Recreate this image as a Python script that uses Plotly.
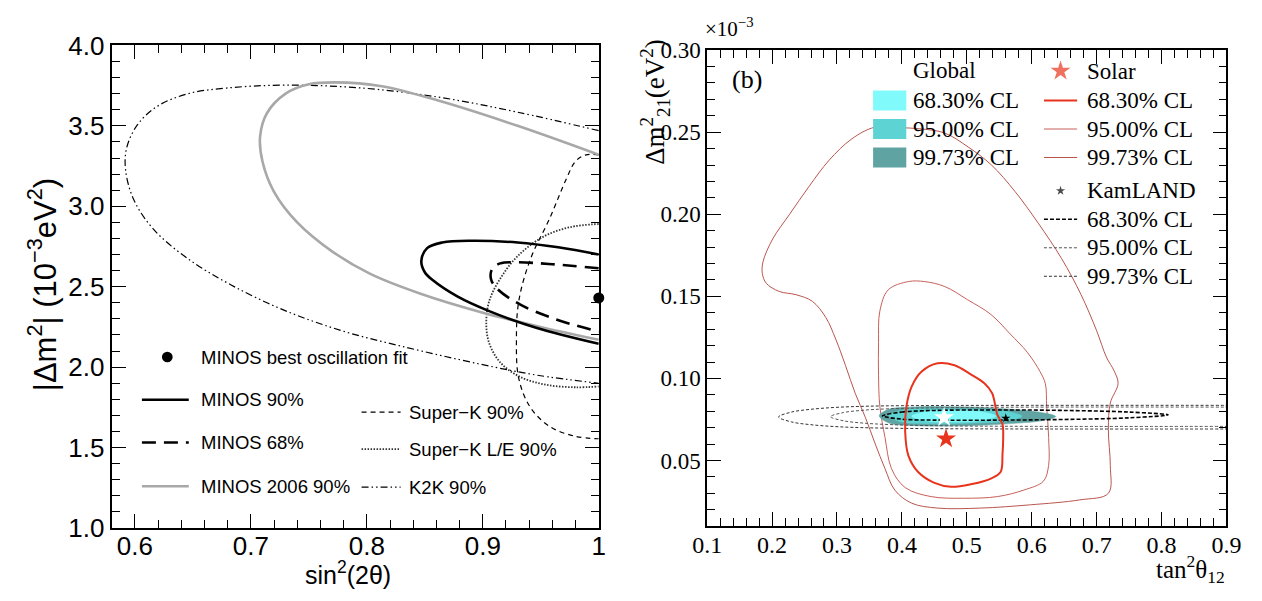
import plotly.graph_objects as go

W, H = 1262, 601

# ---------------- Left panel data (sin^2(2theta), |dm^2| in 1e-3 eV^2) ----------------
best_fit_x = [1.0]
best_fit_y = [2.43]

minos90_x = [1.0, 0.965, 0.93, 0.89, 0.865, 0.852, 0.847, 0.850, 0.857, 0.878, 0.905, 0.946, 1.0]
minos90_y = [2.70, 2.745, 2.775, 2.786, 2.775, 2.74, 2.66, 2.59, 2.54, 2.44, 2.35, 2.245, 2.145]

minos68_x = [1.0, 0.96, 0.93, 0.915, 0.908, 0.907, 0.912, 0.932, 0.962, 1.0]
minos68_y = [2.615, 2.64, 2.652, 2.645, 2.61, 2.55, 2.49, 2.39, 2.30, 2.22]

minos06_x = [1.0, 0.93, 0.863, 0.813, 0.773, 0.750, 0.730, 0.714, 0.708, 0.710, 0.720, 0.740,
             0.770, 0.803, 0.847, 0.897, 0.947, 1.0]
minos06_y = [3.32, 3.50, 3.654, 3.746, 3.77, 3.758, 3.70, 3.58, 3.435, 3.28, 3.09, 2.90,
             2.72, 2.58, 2.455, 2.345, 2.255, 2.17]

k2k_x = [1.0, 0.93, 0.863, 0.796, 0.73, 0.679, 0.646, 0.619, 0.602, 0.593, 0.592, 0.599,
         0.616, 0.646, 0.683, 0.73, 0.78, 0.83, 0.897, 0.947, 1.0]
k2k_y = [3.47, 3.585, 3.677, 3.735, 3.753, 3.735, 3.70, 3.62, 3.504, 3.365, 3.227, 3.042,
         2.858, 2.673, 2.511, 2.35, 2.223, 2.13, 2.02, 1.95, 1.90]

superk_x = [1.0, 0.989, 0.980, 0.972, 0.958, 0.941, 0.931, 0.929, 0.931, 0.941, 0.958, 0.980, 1.0]
superk_y = [3.32, 3.32, 3.28, 3.17, 2.93, 2.67, 2.41, 2.17, 1.93, 1.75, 1.63, 1.57, 1.555]

superkle_x = [1.0, 0.975, 0.952, 0.93, 0.915, 0.9055, 0.903, 0.9055, 0.915, 0.932, 0.955, 0.98, 1.0]
superkle_y = [2.89, 2.87, 2.81, 2.69, 2.55, 2.41, 2.27, 2.15, 2.03, 1.94, 1.89, 1.875, 1.88]

left_xticks = [0.6, 0.7, 0.8, 0.9, 1.0]
left_xticktext = ["0.6", "0.7", "0.8", "0.9", "1"]
left_yticks = [1.0, 1.5, 2.0, 2.5, 3.0, 3.5, 4.0]
left_yticktext = ["1.0", "1.5", "2.0", "2.5", "3.0", "3.5", "4.0"]

# ---------------- Right panel data (tan^2 theta12, dm^2_21 in 1e-3 eV^2) ----------------
solar99_x = [0.358, 0.323, 0.288, 0.257, 0.227, 0.201, 0.186, 0.185, 0.191, 0.211, 0.237, 0.262,
             0.283, 0.298, 0.313, 0.328, 0.344, 0.359, 0.374, 0.389, 0.415, 0.455, 0.521, 0.598,
             0.674, 0.718, 0.721, 0.718, 0.721, 0.733, 0.727, 0.715, 0.700, 0.676, 0.646, 0.610,
             0.574, 0.538, 0.502, 0.466, 0.430, 0.394, 0.358]
solar99_y = [0.253, 0.246, 0.233, 0.217, 0.200, 0.185, 0.171, 0.164, 0.158, 0.153, 0.151, 0.147,
             0.137, 0.124, 0.108, 0.091, 0.076, 0.060, 0.045, 0.032, 0.024, 0.021, 0.021, 0.023,
             0.026, 0.030, 0.047, 0.069, 0.085, 0.097, 0.1045, 0.113, 0.129, 0.151, 0.173, 0.1946,
             0.214, 0.230, 0.241, 0.2495, 0.252, 0.2528, 0.253]

solar95_x = [0.41, 0.379, 0.366, 0.364, 0.364, 0.366, 0.374, 0.384, 0.405, 0.445, 0.496, 0.547,
             0.588, 0.618, 0.626, 0.626, 0.623, 0.621, 0.613, 0.593, 0.567, 0.537, 0.501, 0.466,
             0.435, 0.41]
solar95_y = [0.159, 0.154, 0.141, 0.122, 0.102, 0.083, 0.064, 0.045, 0.0335, 0.028, 0.027, 0.028,
             0.032, 0.0374, 0.047, 0.064, 0.083, 0.0967, 0.104, 0.116, 0.127, 0.139, 0.148, 0.156,
             0.159, 0.159]

solar68_x = [0.455, 0.43, 0.415, 0.407, 0.405, 0.41, 0.425, 0.45, 0.476, 0.506, 0.537, 0.552,
             0.555, 0.556, 0.555, 0.547, 0.542, 0.539, 0.527, 0.506, 0.481, 0.455]
solar68_y = [0.1092, 0.104, 0.095, 0.083, 0.068, 0.053, 0.043, 0.0364, 0.034, 0.0355, 0.039, 0.043,
             0.054, 0.064, 0.072, 0.078, 0.087, 0.091, 0.097, 0.1025, 0.108, 0.1092]

solar_best_x = [0.468]
solar_best_y = [0.0632]

global99_x = [0.365, 0.38, 0.42, 0.47, 0.53, 0.58, 0.615, 0.637, 0.615, 0.58, 0.53, 0.47, 0.42, 0.38, 0.365]
global99_y = [0.0772, 0.0812, 0.0826, 0.0828, 0.0822, 0.0808, 0.0792, 0.0768, 0.0742, 0.0728,
              0.0716, 0.0710, 0.0712, 0.0728, 0.0772]
global95_x = [0.38, 0.40, 0.45, 0.51, 0.56, 0.585, 0.56, 0.51, 0.45, 0.40, 0.38]
global95_y = [0.0772, 0.0806, 0.0815, 0.0812, 0.0800, 0.0770, 0.0740, 0.0728, 0.0724, 0.0734, 0.0772]
global68_x = [0.415, 0.44, 0.48, 0.52, 0.545, 0.52, 0.48, 0.44, 0.415]
global68_y = [0.077, 0.0800, 0.0805, 0.0798, 0.0770, 0.0742, 0.0735, 0.0740, 0.077]
global_best_x = [0.465]
global_best_y = [0.0762]

kam99_x = [0.95, 0.6, 0.45, 0.35, 0.30, 0.26, 0.23, 0.21, 0.23, 0.26, 0.30, 0.35, 0.45, 0.6, 0.95]
kam99_y = [0.0836, 0.0836, 0.0835, 0.0831, 0.0824, 0.0812, 0.0795, 0.0765, 0.0735, 0.0718,
           0.0706, 0.0699, 0.0694, 0.0692, 0.0692]
kam95_x = [0.95, 0.6, 0.45, 0.38, 0.34, 0.31, 0.29, 0.31, 0.34, 0.38, 0.45, 0.6, 0.95]
kam95_y = [0.0825, 0.0825, 0.0821, 0.0815, 0.0806, 0.0792, 0.0767, 0.0742, 0.0728, 0.0719,
           0.0712, 0.0708, 0.0708]
kam68_x = [0.37, 0.40, 0.45, 0.55, 0.65, 0.75, 0.81, 0.75, 0.65, 0.55, 0.45, 0.40, 0.37]
kam68_y = [0.0772, 0.0795, 0.0805, 0.0808, 0.0805, 0.0795, 0.0778, 0.0760, 0.0750, 0.0746,
           0.0746, 0.0752, 0.0772]
kam_best_x = [0.56]
kam_best_y = [0.0758]

right_xticks = [0.1, 0.2, 0.3, 0.4, 0.5, 0.6, 0.7, 0.8, 0.9]
right_xticktext = ["0.1", "0.2", "0.3", "0.4", "0.5", "0.6", "0.7", "0.8", "0.9"]
right_yticks = [0.05, 0.10, 0.15, 0.20, 0.25, 0.30]
right_yticktext = ["0.05", "0.10", "0.15", "0.20", "0.25", "0.30"]

# ---------------- layout geometry (pixels) ----------------
L1, R1, T1, B1 = 99, 598, 32, 540
L2, R2, T2, B2 = 709, 1241, 37, 538

SANS = "Liberation Sans, Arial, sans-serif"
SERIF = "Liberation Serif, Times New Roman, serif"


def px(x):
    return x / W


def py(y):
    return 1 - y / H


fig = go.Figure()


def line(xs, ys, color, width, dash="solid", axes=("x", "y"), shape="spline"):
    fig.add_trace(go.Scatter(x=xs, y=ys, mode="lines", xaxis=axes[0], yaxis=axes[1],
                             line=dict(color=color, width=width, dash=dash, shape=shape, smoothing=1.0),
                             hoverinfo="skip", showlegend=False))


# Left panel
line(k2k_x, k2k_y, "black", 1.2, "7px,3px,1.5px,3px,1.5px,3px")
line(superk_x, superk_y, "black", 1.2, "5px,4px")
line(superkle_x, superkle_y, "#333333", 1.8, "1.5px,1.5px")
line(minos06_x, minos06_y, "#a8a8a8", 2.6)
line(minos68_x, minos68_y, "black", 2.6, "14px,8px")
line(minos90_x, minos90_y, "black", 2.6)
fig.add_trace(go.Scatter(x=best_fit_x, y=best_fit_y, mode="markers", xaxis="x", yaxis="y",
                         marker=dict(color="black", size=11), cliponaxis=False,
                         hoverinfo="skip", showlegend=False))

# Right panel
R = ("x2", "y2")
line(solar99_x, solar99_y, "#b8564e", 1.0, axes=R)
line(solar95_x, solar95_y, "#c8605a", 1.0, axes=R)
for gx, gy, col in [(global99_x, global99_y, "#5fa3a3"), (global95_x, global95_y, "#5ed3d3"),
                    (global68_x, global68_y, "#80fafa")]:
    fig.add_trace(go.Scatter(x=gx, y=gy, mode="lines", xaxis="x2", yaxis="y2", fill="toself",
                             fillcolor=col, line=dict(color=col, width=0.5, shape="spline"),
                             hoverinfo="skip", showlegend=False))
line(kam99_x, kam99_y, "#333333", 1.0, "3px,2px", axes=R)
line(kam95_x, kam95_y, "#555555", 1.0, "3px,2px", axes=R)
line(kam68_x, kam68_y, "black", 1.6, "4px,2px", axes=R)
line(solar68_x, solar68_y, "#e8341c", 2.0, axes=R)
fig.add_trace(go.Scatter(x=global_best_x, y=global_best_y, mode="markers", xaxis="x2", yaxis="y2",
                         marker=dict(symbol="star", color="white", size=15, line=dict(width=0)),
                         hoverinfo="skip", showlegend=False))
fig.add_trace(go.Scatter(x=kam_best_x, y=kam_best_y, mode="markers", xaxis="x2", yaxis="y2",
                         marker=dict(symbol="star", color="black", size=7),
                         hoverinfo="skip", showlegend=False))
fig.add_trace(go.Scatter(x=solar_best_x, y=solar_best_y, mode="markers", xaxis="x2", yaxis="y2",
                         marker=dict(symbol="star", color="#e8341c", size=15, line=dict(width=0)),
                         hoverinfo="skip", showlegend=False))

# ---------------- legends and texts ----------------
shapes = []
annotations = []


def text(x, y, s, font, size, xanchor="left", angle=0):
    annotations.append(dict(x=px(x), y=py(y), xref="paper", yref="paper", text=s, showarrow=False,
                            xanchor=xanchor, yanchor="middle", textangle=angle,
                            font=dict(family=font, size=size, color="black")))


def lline(x0, x1, y, color, width, dash):
    shapes.append(dict(type="line", xref="paper", yref="paper", x0=px(x0), x1=px(x1), y0=py(y), y1=py(y),
                       line=dict(color=color, width=width, dash=dash)))


# left legend
LEG = 18.5
shapes.append(dict(type="circle", xref="paper", yref="paper", x0=px(150.5), x1=px(161.5), y0=py(354.5),
                   y1=py(365.5), fillcolor="black", line=dict(width=0)))
text(188, 360, "MINOS best oscillation fit", SANS, LEG)
lline(130, 178, 405, "black", 2.6, "solid")
text(188, 405, "MINOS 90%", SANS, LEG)
lline(130, 178, 450, "black", 2.6, "14px,8px")
text(188, 450, "MINOS 68%", SANS, LEG)
lline(130, 178, 496, "#a8a8a8", 2.6, "solid")
text(188, 496, "MINOS 2006 90%", SANS, LEG)
lline(355, 395, 418, "black", 1.2, "5px,4px")
text(402, 418, "Super\u2212K 90%", SANS, LEG)
lline(355, 395, 457, "#333333", 1.8, "1.5px,1.5px")
text(402, 457, "Super\u2212K L/E 90%", SANS, LEG)
lline(355, 395, 497, "black", 1.2, "7px,3px,1.5px,3px,1.5px,3px")
text(402, 497, "K2K 90%", SANS, LEG)

# right legend
RL = 23
rows_g = [90, 120, 150]
rows_k = [215, 245, 275]
text(918, 58, "Global", SERIF, RL)
for yy, col, lab in zip(rows_g, ["#80fafa", "#5ed3d3", "#5fa3a3"], ["68.30% CL", "95.00% CL", "99.73% CL"]):
    shapes.append(dict(type="rect", xref="paper", yref="paper", x0=px(879), x1=px(913), y0=py(yy - 10.5),
                       y1=py(yy + 10.5), fillcolor=col, line=dict(width=0)))
    text(918, yy, lab, SERIF, RL)
text(1096, 59, "Solar", SERIF, RL)
for yy, col, wd, lab in zip(rows_g, ["#e8341c", "#c8605a", "#b8564e"], [2.0, 1.0, 1.0],
                            ["68.30% CL", "95.00% CL", "99.73% CL"]):
    lline(1054, 1088, yy, col, wd, "solid")
    text(1096, yy, lab, SERIF, RL)
text(1096, 185, "KamLAND", SERIF, RL)
for yy, col, wd, dash, lab in zip(rows_k, ["black", "#555555", "#333333"], [1.6, 1.0, 1.0],
                                  ["4px,2px", "3px,2px", "3px,2px"], ["68.30% CL", "95.00% CL", "99.73% CL"]):
    lline(1054, 1088, yy, col, wd, dash)
    text(1096, yy, lab, SERIF, RL)

# legend glyph markers on an invisible full-figure pixel axis
glyph_x = [896, 896, 896, 1071, 1071]
glyph_y = [90, 120, 150, 59, 185]
glyph_col = ["white", "white", "white", "#e8341c", "black"]
glyph_size = [6, 6, 6, 15, 7]
fig.add_trace(go.Scatter(x=glyph_x, y=glyph_y, mode="markers", xaxis="x3", yaxis="y3",
                         marker=dict(symbol="star", color=glyph_col, size=glyph_size, line=dict(width=0)),
                         hoverinfo="skip", showlegend=False))

# panel texts
text(750, 68, "(b)", SERIF, 26, xanchor="center")
text(R2 + 1, 583, "tan<sup>2</sup>θ<sub>12</sub>", SERIF, 25, xanchor="right")
text(656, 91, "Δm<sup>2</sup><sub>21</sub>(eV<sup>2</sup>)", SERIF, 27, xanchor="center", angle=-90)
text(705, 13, "×10<sup>−3</sup>", SERIF, 21)
text(341, 587, "sin<sup>2</sup>(2θ)", SANS, 25, xanchor="center")
text(28, 284, "|Δm<sup>2</sup>| (10<sup>−3</sup>eV<sup>2</sup>)", SANS, 31, xanchor="center", angle=-90)


def axis(dom, rng, tv, tt, minor_dtick, font, fsize, lw, anchor, tick0, standoff=0):
    return dict(domain=dom, range=rng, tickmode="array", tickvals=tv, ticktext=tt, ticks="inside",
                ticklen=14, tickwidth=1.2, tickcolor="black", showline=True, linecolor="black",
                linewidth=lw, mirror="allticks", showgrid=False, zeroline=False, anchor=anchor,
                ticklabelstandoff=standoff,
                tickfont=dict(family=font, size=fsize, color="black"),
                minor=dict(ticks="inside", ticklen=8, tickwidth=1.2, tickcolor="black",
                           dtick=minor_dtick, tick0=tick0, showgrid=False))


fig.update_layout(
    width=W, height=H, autosize=False, margin=dict(l=0, r=0, t=0, b=0),
    paper_bgcolor="white", plot_bgcolor="rgba(0,0,0,0)", showlegend=False,
    xaxis=axis([px(L1), px(R1)], [0.58, 1.0], left_xticks, left_xticktext, 0.02, SANS, 26, 2, "y", 0.6, -6),
    yaxis=axis([py(B1), py(T1)], [1.0, 4.0], left_yticks, left_yticktext, 0.1, SANS, 26, 2, "x", 1.0),
    xaxis2=axis([px(L2), px(R2)], [0.1, 0.9], right_xticks, right_xticktext, 0.02, SERIF, 24, 1.5, "y2", 0.1, -4),
    yaxis2=axis([py(B2), py(T2)], [0.01, 0.30], right_yticks, right_yticktext, 0.01, SERIF, 23, 1.5, "x2", 0.0),
    xaxis3=dict(domain=[0, 1], range=[0, W], visible=False, anchor="y3", fixedrange=True),
    yaxis3=dict(domain=[0, 1], range=[H, 0], visible=False, anchor="x3", fixedrange=True),
    shapes=shapes, annotations=annotations,
)

fig.write_html("out.html", config={"displayModeBar": False},
               post_script="document.body.style.margin='0';document.body.style.overflow='hidden';")
